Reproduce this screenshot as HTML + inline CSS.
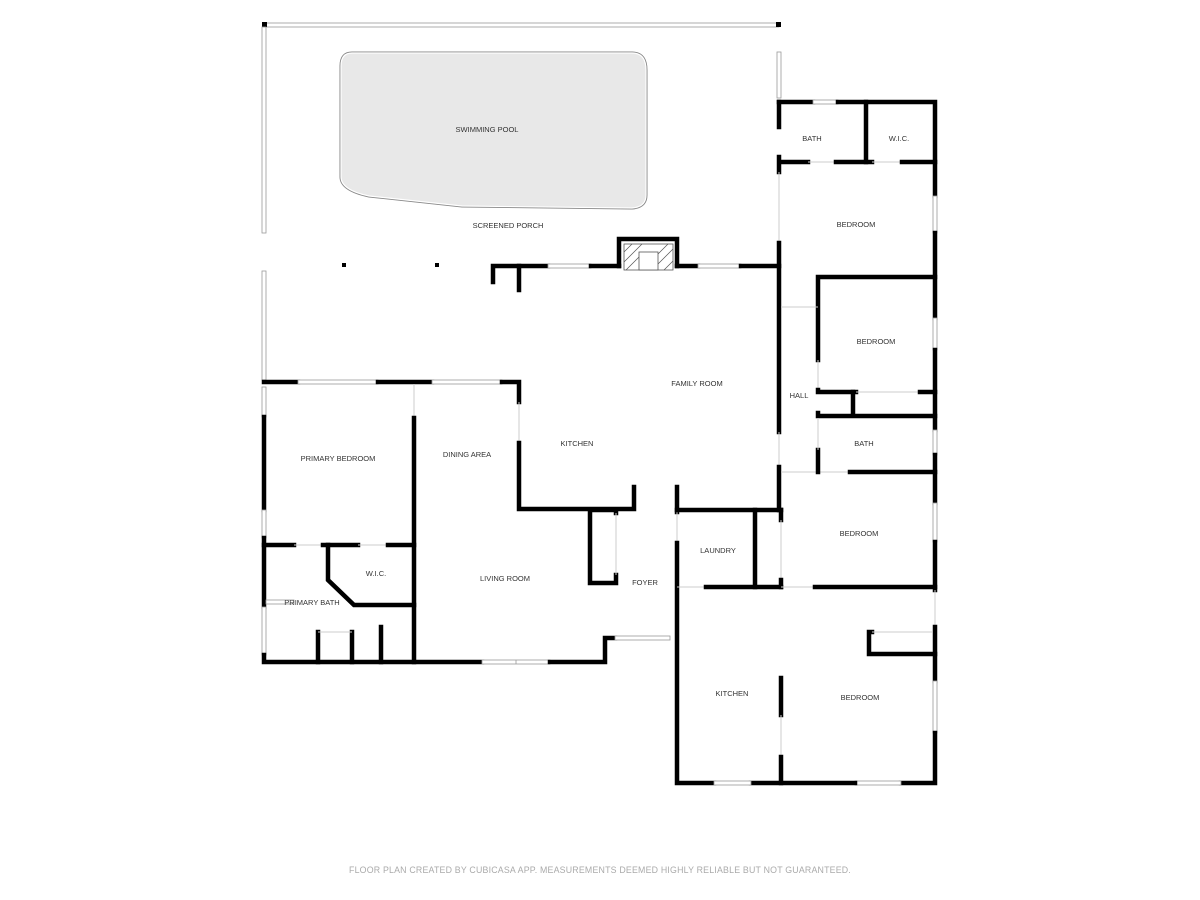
<!DOCTYPE html>
<html><head><meta charset="utf-8"><style>
html,body{margin:0;padding:0;background:#fff;}
svg{display:block;}
text{font-family:"Liberation Sans",sans-serif;font-size:7.5px;fill:#333;text-anchor:middle;}
.w{stroke:#000;stroke-width:4.5;fill:none;stroke-linecap:square;}
.t{stroke:#ccc;stroke-width:1;fill:none;}
.win{fill:#fff;stroke:#999;stroke-width:0.8;}
</style></head><body>
<svg width="1200" height="900" viewBox="0 0 1200 900" xmlns="http://www.w3.org/2000/svg">
<rect class="win" x="264" y="23" width="515" height="4"/>
<rect x="262" y="22" width="5" height="5" fill="#000"/><rect x="776" y="22" width="5" height="5" fill="#000"/>
<rect class="win" x="262" y="27" width="4" height="206"/>
<rect class="win" x="262" y="271" width="4" height="109"/>
<rect class="win" x="777" y="52" width="4" height="46"/>
<path d="M352,53 L632,53 Q646,53 646,70 L646,195 Q646,207 632,208 L462,206 L369,196 Q341,190 341,177 L341,66 Q341,53 352,53 Z" fill="#e8e8e8" stroke="#888" stroke-width="3"/>
<path d="M352,53 L632,53 Q646,53 646,70 L646,195 Q646,207 632,208 L462,206 L369,196 Q341,190 341,177 L341,66 Q341,53 352,53 Z" fill="#e8e8e8" stroke="#fff" stroke-width="1.2"/>
<rect x="342" y="263" width="4" height="4" fill="#000"/><rect x="435" y="263" width="4" height="4" fill="#000"/>
<rect x="624" y="244" width="49" height="26" fill="#fff" stroke="#555" stroke-width="0.8"/>
<g stroke="#555" stroke-width="0.7">
<line x1="624" y1="252" x2="632" y2="244"/><line x1="624" y1="262" x2="642" y2="244"/><line x1="626" y1="270" x2="639" y2="257"/>
<line x1="658" y1="254" x2="668" y2="244"/><line x1="658" y1="264" x2="673" y2="249"/><line x1="664" y1="270" x2="673" y2="261"/>
</g>
<rect x="639" y="252" width="19" height="18" fill="#fff" stroke="#555" stroke-width="0.8"/>
<path class="w" d="M619,266 L619,239 L677,239 L677,266"/>
<path class="w" d="M493,282 L493,266 L548,266"/>
<path class="w" d="M519,266 L519,290"/>
<rect class="win" x="548" y="264" width="43" height="4"/>
<path class="w" d="M591,266 L619,266"/><path class="w" d="M677,266 L698,266"/>
<rect class="win" x="698" y="264" width="43" height="4"/>
<path class="w" d="M741,266 L779,266"/>
<path class="w" d="M779,102 L779,127"/><path class="w" d="M779,157 L779,172"/>
<line class="t" x1="779" y1="172" x2="779" y2="243"/>
<path class="w" d="M779,243 L779,432"/>
<line class="t" x1="779" y1="432" x2="779" y2="467"/>
<path class="w" d="M779,467 L779,510"/>
<path class="w" d="M264,382 L298,382"/><rect class="win" x="298" y="380" width="80" height="4"/>
<path class="w" d="M378,382 L432,382"/><rect class="win" x="432" y="380" width="70" height="4"/>
<path class="w" d="M502,382 L519,382 L519,402"/>
<line class="t" x1="519" y1="402" x2="519" y2="443"/>
<path class="w" d="M519,443 L519,509 L634,509 L634,487"/>
<rect class="win" x="262" y="387" width="4" height="30"/>
<path class="w" d="M264,417 L264,510"/>
<rect class="win" x="262" y="510" width="4" height="28"/>
<path class="w" d="M264,538 L264,607"/>
<rect class="win" x="262" y="607" width="4" height="48"/>
<path class="w" d="M264,655 L264,662 L482,662"/>
<rect class="win" x="482" y="660" width="68" height="4"/><line x1="516" y1="660" x2="516" y2="664" stroke="#999" stroke-width="0.8"/>
<path class="w" d="M550,662 L605,662 L605,638 L615,638"/>
<rect class="win" x="615" y="636" width="55" height="4"/>
<line class="t" x1="414" y1="384" x2="414" y2="418"/>
<path class="w" d="M414,418 L414,662"/>
<path class="w" d="M264,545 L294,545"/><line class="t" x1="294" y1="545" x2="323" y2="545"/>
<path class="w" d="M323,545 L358,545"/><line class="t" x1="358" y1="545" x2="388" y2="545"/>
<path class="w" d="M388,545 L414,545"/>
<path class="w" d="M328,545 L328,580 L354,605 L414,605"/>
<rect class="win" x="266" y="600" width="28" height="4"/>
<path class="w" d="M318,662 L318,632"/><path class="w" d="M352,662 L352,632"/><line class="t" x1="318" y1="632" x2="352" y2="632"/>
<path class="w" d="M381,662 L381,627"/>
<path class="w" d="M616,513 L616,510 L590,510 L590,583 L616,583 L616,575"/>
<line class="t" x1="616" y1="513" x2="616" y2="575"/>
<path class="w" d="M677,487 L677,512"/>
<line class="t" x1="677" y1="512" x2="677" y2="543"/>
<path class="w" d="M677,543 L677,783 L714,783"/>
<path class="w" d="M677,510 L781,510"/>
<path class="w" d="M755,510 L755,587"/>
<path class="w" d="M781,510 L781,520"/><line class="t" x1="781" y1="520" x2="781" y2="580"/><path class="w" d="M781,580 L781,587"/>
<line class="t" x1="677" y1="587" x2="706" y2="587"/>
<path class="w" d="M706,587 L781,587"/><line class="t" x1="781" y1="587" x2="815" y2="587"/>
<path class="w" d="M815,587 L935,587"/>
<line class="t" x1="781" y1="472" x2="850" y2="472"/>
<path class="w" d="M850,472 L935,472"/>
<path class="w" d="M818,450 L818,472"/>
<path class="w" d="M779,102 L813,102"/><rect class="win" x="813" y="100" width="25" height="4"/>
<path class="w" d="M838,102 L935,102 L935,196"/>
<rect class="win" x="933" y="196" width="4" height="37"/>
<path class="w" d="M935,233 L935,318"/><rect class="win" x="933" y="318" width="4" height="32"/>
<path class="w" d="M935,350 L935,430"/><rect class="win" x="933" y="430" width="4" height="25"/>
<path class="w" d="M935,455 L935,503"/><rect class="win" x="933" y="503" width="4" height="39"/>
<path class="w" d="M935,542 L935,590"/><line class="t" x1="935" y1="590" x2="935" y2="627"/>
<path class="w" d="M935,627 L935,681"/><rect class="win" x="933" y="681" width="4" height="52"/>
<path class="w" d="M935,733 L935,783 L901,783"/>
<rect class="win" x="855" y="781" width="46" height="4"/>
<path class="w" d="M855,783 L751,783"/>
<rect class="win" x="714" y="781" width="37" height="4"/>
<path class="w" d="M781,162 L808,162"/><line class="t" x1="808" y1="162" x2="836" y2="162"/>
<path class="w" d="M836,162 L872,162"/><line class="t" x1="872" y1="162" x2="902" y2="162"/>
<path class="w" d="M902,162 L935,162"/>
<path class="w" d="M866,102 L866,162"/>
<path class="w" d="M818,360 L818,277 L935,277"/>
<line class="t" x1="818" y1="360" x2="818" y2="390"/>
<line class="t" x1="781" y1="307" x2="818" y2="307"/>
<path class="w" d="M818,390 L818,392 L856,392"/>
<line class="t" x1="856" y1="392" x2="920" y2="392"/>
<path class="w" d="M920,392 L935,392"/>
<path class="w" d="M853,392 L853,415"/>
<path class="w" d="M818,413 L818,416 L935,416"/>
<line class="t" x1="818" y1="418" x2="818" y2="450"/>
<path class="w" d="M872,632 L869,632 L869,654 L935,654"/>
<line class="t" x1="872" y1="632" x2="932" y2="632"/>
<path class="w" d="M781,678 L781,715"/><line class="t" x1="781" y1="715" x2="781" y2="757"/>
<path class="w" d="M781,757 L781,783"/>
<text x="487" y="132">SWIMMING POOL</text>
<text x="508" y="228">SCREENED PORCH</text>
<text x="812" y="141">BATH</text>
<text x="899" y="141">W.I.C.</text>
<text x="856" y="227">BEDROOM</text>
<text x="876" y="344">BEDROOM</text>
<text x="697" y="386">FAMILY ROOM</text>
<text x="799" y="398">HALL</text>
<text x="864" y="446">BATH</text>
<text x="577" y="446">KITCHEN</text>
<text x="338" y="461">PRIMARY BEDROOM</text>
<text x="467" y="457">DINING AREA</text>
<text x="859" y="536">BEDROOM</text>
<text x="718" y="553">LAUNDRY</text>
<text x="376" y="576">W.I.C.</text>
<text x="505" y="581">LIVING ROOM</text>
<text x="645" y="585">FOYER</text>
<text x="312" y="605">PRIMARY BATH</text>
<text x="732" y="696">KITCHEN</text>
<text x="860" y="700">BEDROOM</text>
<text x="600" y="873" style="font-size:8.8px;fill:#aaa;letter-spacing:0.2px">FLOOR PLAN CREATED BY CUBICASA APP. MEASUREMENTS DEEMED HIGHLY RELIABLE BUT NOT GUARANTEED.</text>
</svg>
</body></html>
